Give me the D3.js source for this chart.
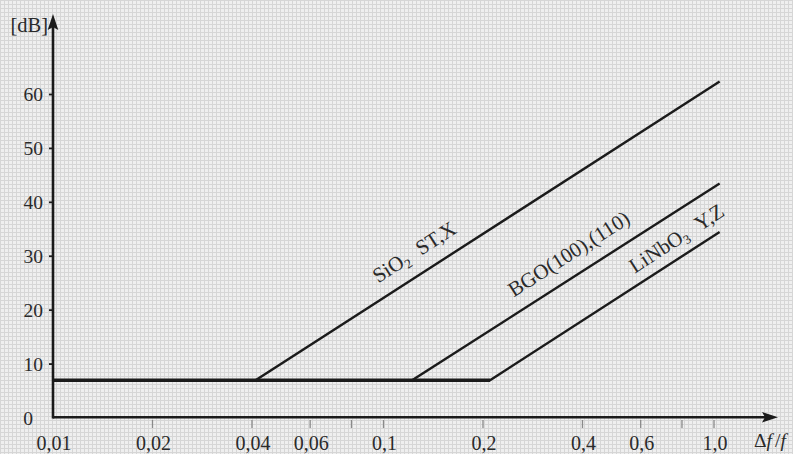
<!DOCTYPE html>
<html>
<head>
<meta charset="utf-8">
<script src="https://cdn.jsdelivr.net/npm/d3@7"></script>
<style>
  body { margin: 0; background: #fff; }
  svg { display: block; font-family: "Liberation Serif", "DejaVu Serif", serif; }
</style>
</head>
<body>
<svg id="chart" width="793" height="454"></svg>
<script>
// data
var xTicks = [0.02, 0.04, 0.06, 0.08, 0.1, 0.2, 0.4, 0.6, 0.8, 1.0];
var xTickLabels = [0.01, 0.02, 0.04, 0.06, 0.1, 0.2, 0.4, 0.6, 1.0];
var yTicks = [0, 10, 20, 30, 40, 50, 60];

var sio2 = [[0.01, 7], [0.041, 7], [1.04, 62.4]];
var bgo = [[0.01, 7], [0.122, 7], [1.04, 43.5]];
var linbo3 = [[0.01, 7], [0.21, 7], [1.04, 34.5]];

var series = [
    { name: "SiO", sub: "2", rest: "ST,X", pts: sio2, at: 0.102, off: 15 },
    { name: "BGO(100),(110)", sub: "", rest: "", pts: bgo, at: 0.262, off: 15 },
    { name: "LiNbO", sub: "3", rest: "Y,Z", pts: linbo3, at: 0.6, off: 11 }
];

var svg = d3.select("#chart");

// grid paper background
var defs = svg.append("defs");
var pat = defs.append("pattern")
    .attr("id", "grid")
    .attr("width", 4).attr("height", 4)
    .attr("patternUnits", "userSpaceOnUse");
pat.append("rect").attr("width", 4).attr("height", 4).attr("fill", "#efefef");
pat.append("path").attr("d", "M0,0.5H4M0.5,0V4")
    .attr("stroke", "#d6d6d6").attr("stroke-width", 1);
svg.append("rect").attr("width", 793).attr("height", 454).attr("fill", "url(#grid)");

var x = d3.scaleLog().domain([0.01, 1]).range([53, 714]);
var y = d3.scaleLinear().domain([0, 60]).range([418, 94.5]);

var ink = "#1b1b1b";
var txtCol = "#2a2a2a";

// x ticks (grey, below the axis)
svg.selectAll(".xt").data(xTicks).enter().append("line")
    .attr("x1", d => x(d)).attr("x2", d => x(d))
    .attr("y1", y(0) + 2).attr("y2", y(0) + 10)
    .attr("stroke", "#8a8a8a").attr("stroke-width", 1.3);

svg.selectAll(".xl").data(xTickLabels).enter().append("text")
    .attr("x", d => x(d) + 1).attr("y", y(0) + 32)
    .attr("text-anchor", "middle")
    .attr("font-size", 20).attr("fill", txtCol)
    .text(d => d3.format(".2~f")(d).replace(".", ",").replace(/^1$/, "1,0"));

// y ticks
svg.selectAll(".yt").data(yTicks.filter(d => d > 0)).enter().append("line")
    .attr("x1", x(0.01) - 4).attr("x2", x(0.01))
    .attr("y1", d => y(d)).attr("y2", d => y(d))
    .attr("stroke", ink).attr("stroke-width", 1.8);

svg.selectAll(".yl").data(yTicks).enter().append("text")
    .attr("x", d => d === 0 ? 33 : 43).attr("y", d => y(d) + 6.5)
    .attr("text-anchor", "end")
    .attr("font-size", 19.5).attr("fill", txtCol)
    .text(d => d);

// axes with arrows
svg.append("line")
    .attr("x1", x(0.01)).attr("x2", 766)
    .attr("y1", y(0) - 0.7).attr("y2", y(0) - 0.7)
    .attr("stroke", ink).attr("stroke-width", 2.6);
svg.append("path")
    .attr("d", "M778," + (y(0) - 0.7) + "L762," + (y(0) - 6) + "L765," + (y(0) - 0.7) + "L762," + (y(0) + 4.6) + "Z")
    .attr("fill", ink);

svg.append("line")
    .attr("x1", x(0.01)).attr("x2", x(0.01))
    .attr("y1", y(0) + 0.6).attr("y2", 27)
    .attr("stroke", ink).attr("stroke-width", 2.6);
svg.append("path")
    .attr("d", "M" + x(0.01) + ",14L" + (x(0.01) - 5.3) + ",30L" + x(0.01) + ",27L" + (x(0.01) + 5.3) + ",30Z")
    .attr("fill", ink);

svg.append("text")
    .attr("x", 48).attr("y", 32)
    .attr("text-anchor", "end")
    .attr("font-size", 20.5).attr("fill", txtCol)
    .text("[dB]");

var ax = svg.append("text")
    .attr("x", 754).attr("y", 447)
    .attr("font-size", 19.5).attr("fill", txtCol);
ax.append("tspan").text("\u0394");
ax.append("tspan").attr("font-style", "italic").text("f");
ax.append("tspan").attr("dx", 3).text("/");
ax.append("tspan").attr("font-style", "italic").text("f");

// lines
var line = d3.line().x(d => x(d[0])).y(d => y(d[1]));

svg.append("line")
    .attr("x1", x(0.01)).attr("x2", x(linbo3[1][0]))
    .attr("y1", y(7)).attr("y2", y(7))
    .attr("stroke", ink).attr("stroke-width", 3.6);

svg.selectAll(".series").data(series).enter().append("path")
    .attr("d", d => line(d.pts))
    .attr("fill", "none")
    .attr("stroke", ink)
    .attr("stroke-width", 2.4);

// rotated labels along each line
series.forEach(function(s) {
    var p1 = s.pts[1], p2 = s.pts[2];
    var ang = Math.atan2(y(p2[1]) - y(p1[1]), x(p2[0]) - x(p1[0])) * 180 / Math.PI;
    var t = (Math.log(s.at) - Math.log(p1[0])) / (Math.log(p2[0]) - Math.log(p1[0]));
    var px = x(s.at), py = y(p1[1] + t * (p2[1] - p1[1]));
    var txt = svg.append("text")
        .attr("transform", "translate(" + px + "," + py + ") rotate(" + ang + ")")
        .attr("y", -s.off)
        .attr("font-size", 21).attr("fill", txtCol);
    txt.append("tspan").text(s.name);
    if (s.sub) {
        txt.append("tspan").attr("font-size", 13).attr("dy", 4).text(s.sub);
        txt.append("tspan").attr("dy", -4).attr("dx", 12).text(s.rest);
    }
});
</script>
</body>
</html>
